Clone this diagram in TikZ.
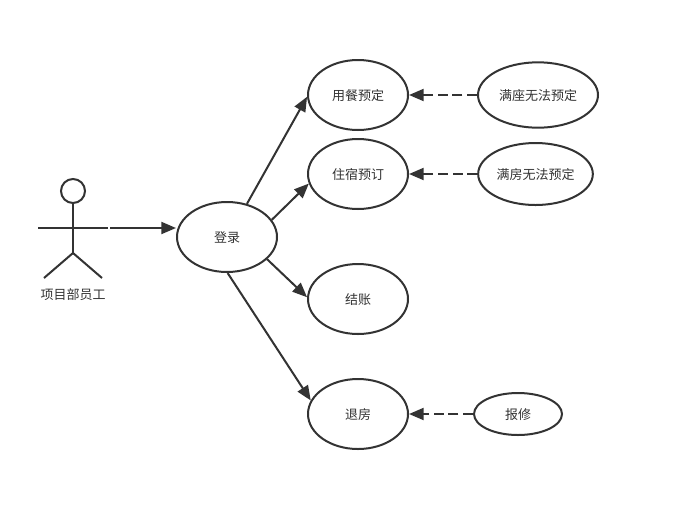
\documentclass[tikz,border=0pt]{standalone}
\usepackage{fontspec}
\usepackage{xcolor}
\usetikzlibrary{arrows.meta, shapes.geometric}
\setmainfont{Noto Sans CJK SC}
\definecolor{stroke}{HTML}{333333}
\tikzset{
  usecase/.style={draw=stroke, line width=1.5pt, ellipse, fill=white, inner sep=0pt,
    text=stroke, text height=9.9pt, text depth=1.2pt, font=\fontsize{9.75pt}{12pt}\selectfont},
  link/.style={draw=stroke, line width=1.5pt, -{Triangle[length=11pt, width=9pt]}},
  extend/.style={link, dash pattern=on 7.5pt off 3.5pt},
  limb/.style={draw=stroke, line width=1.5pt}
}

\begin{document}
\begin{tikzpicture}[x=0.75pt, y=-0.75pt]
    \useasboundingbox (0,0) rectangle (678,508);
    % actor
    \node[draw=stroke, line width=1.5pt, circle, minimum size=18pt, inner sep=0pt] (head) at (73,191) {};
    \coordinate (hip) at (73,253);
    \coordinate (handl) at (38,228);
    \coordinate (handr) at (108,228);
    \coordinate (start) at (110,228);
    \coordinate (footl) at (44,278);
    \coordinate (footr) at (102,278);
    \draw[limb] (head) -- (hip);
    \draw[limb] (handl) -- (handr);
    \draw[limb] (footl) -- (hip) -- (footr);
    \node[text=stroke, text height=9.9pt, text depth=1.2pt, font=\fontsize{9.75pt}{12pt}\selectfont] (actor) at (73,294) {项目部员工};

    % use cases
    \node[usecase, minimum width=75pt, minimum height=52.5pt] (login) at (227,237) {登录};
    \node[usecase, minimum width=75pt, minimum height=52.5pt] (meal) at (358,95) {用餐预定};
    \node[usecase, minimum width=75pt, minimum height=52.5pt] (stay) at (358,174) {住宿预订};
    \node[usecase, minimum width=75pt, minimum height=52.5pt] (bill) at (358,299) {结账};
    \node[usecase, minimum width=75pt, minimum height=52.5pt] (leave) at (358,414) {退房};
    \node[usecase, minimum width=90pt, minimum height=49pt] (mealfull) at (538,95) {满座无法预定};
    \node[usecase, minimum width=86pt, minimum height=46.5pt] (stayfull) at (535.5,174) {满房无法预定};
    \node[usecase, minimum width=66pt, minimum height=31.5pt] (repair) at (518,414) {报修};

    % connectors
    \draw[link] (start) -- (login.west |- start);
    \draw[link] (login.59) -- (meal.182);
    \draw[link] (login.21) -- (stay.191);
    \draw[link] (login.-29) -- (bill.178);
    \draw[link] (login.-89) -- (leave.164);
    \draw[extend] (mealfull) -- (meal);
    \draw[extend] (stayfull) -- (stay);
    \draw[extend] (repair) -- (leave);
  \end{tikzpicture}
\end{document}
